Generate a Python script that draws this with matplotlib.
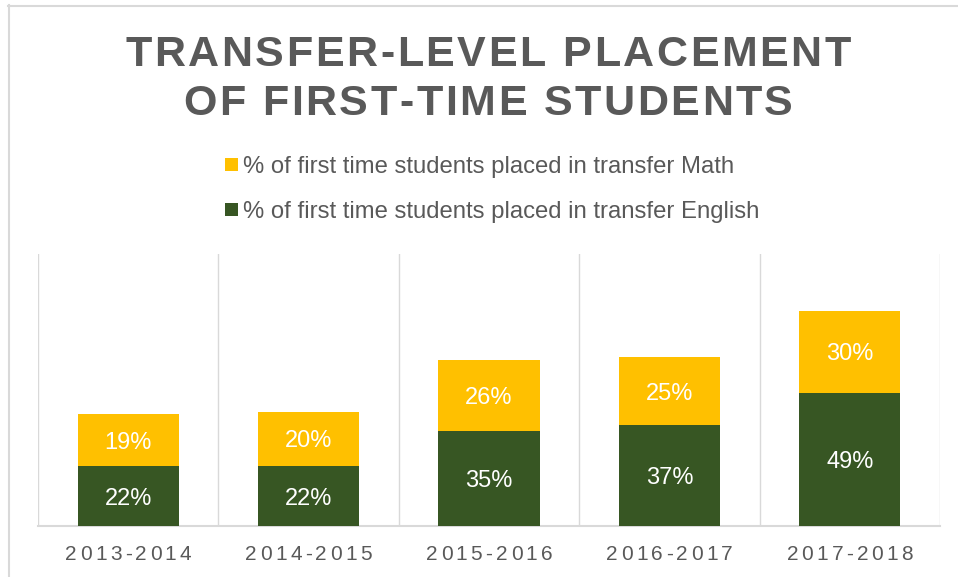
import matplotlib
matplotlib.use("Agg")
import matplotlib.pyplot as plt
from matplotlib import font_manager
from matplotlib.font_manager import FontProperties
from matplotlib.ft2font import FT2Font
from matplotlib.transforms import ScaledTranslation
from matplotlib.patches import Rectangle
from matplotlib.lines import Line2D

# data (percent)
years = ["2013-2014", "2014-2015", "2015-2016", "2016-2017", "2017-2018"]
english = [22, 22, 35, 37, 49]
math_vals = [19, 20, 26, 25, 30]
title_lines = ["TRANSFER-LEVEL PLACEMENT", "OF FIRST-TIME STUDENTS"]
legend_labels = ["% of first time students placed in transfer Math",
                 "% of first time students placed in transfer English"]

GREEN = "#375623"
GOLD = "#FFC000"
GREY_TXT = "#595959"
GRID = "#D9D9D9"

W, H = 958, 577
fig = plt.figure(figsize=(W / 100, H / 100), dpi=100)
ax = fig.add_axes([38 / W, 1 - 526 / H, 902 / W, 272 / H])


def fx(px):
    return px / W


def fy(py):
    return 1 - py / H


def spaced_text(x_px, y_px, s, size, spacing_pt, weight="normal", color=GREY_TXT):
    # draw text with extra letter spacing, centred on x_px, baseline at y_px
    fp = FontProperties(family="Liberation Sans", weight=weight, size=size)
    font = FT2Font(font_manager.findfont(fp))
    font.set_size(size, 72)
    adv = [font.load_char(ord(c)).linearHoriAdvance / 65536 for c in s]
    total = sum(adv) + spacing_pt * (len(s) - 1)
    pos = -total / 2
    for c, a in zip(s, adv):
        tr = fig.transFigure + ScaledTranslation(pos / 72, 0, fig.dpi_scale_trans)
        fig.text(fx(x_px), fy(y_px), c, transform=tr, fontproperties=fp,
                 color=color, ha="left", va="baseline")
        pos += a + spacing_pt


x = range(len(years))
b1 = ax.bar(x, english, width=0.56, color=GREEN, zorder=3)
b2 = ax.bar(x, math_vals, width=0.56, bottom=english, color=GOLD, zorder=3)

for i in x:
    ax.text(i, english[i] / 2, f"{english[i]}%", ha="center", va="center_baseline",
            color="white", fontsize=17, family="Liberation Sans", zorder=4)
    ax.text(i, english[i] + math_vals[i] / 2, f"{math_vals[i]}%", ha="center",
            va="center_baseline", color="white", fontsize=17,
            family="Liberation Sans", zorder=4)

ax.set_xlim(-0.5, len(years) - 0.5)
ax.set_ylim(0, 100)
for b in [i - 0.5 for i in range(len(years) + 1)]:
    ax.axvline(b, color=GRID, lw=1.0, zorder=1)
for s in ["top", "left", "right"]:
    ax.spines[s].set_visible(False)
ax.spines["bottom"].set_color(GRID)
ax.spines["bottom"].set_linewidth(1.5)
ax.set_xticks([])
ax.set_yticks([])

# category labels with letter spacing
cat_w = 902 / len(years)
for i, yr in enumerate(years):
    spaced_text(38 + cat_w * (i + 0.5), 560, yr, 15, 2.4)

# title
spaced_text(488, 66, title_lines[0], 31, 1.8, weight="bold")
spaced_text(488, 115, title_lines[1], 31, 1.8, weight="bold")

# legend
for k, (lab, col) in enumerate(zip(legend_labels, [GOLD, GREEN])):
    top = 158 + 45 * k
    fig.add_artist(Rectangle((fx(225), fy(top + 13)), 13 / W, 13 / H,
                             transform=fig.transFigure, color=col, lw=0))
    fig.text(fx(243), fy(top + 6.5), lab, ha="left", va="center_baseline",
             fontsize=17.2, family="Liberation Sans", color=GREY_TXT)

# outer frame
fig.add_artist(Line2D([fx(8), fx(958)], [fy(5.5), fy(5.5)], color=GRID, lw=1.5,
                      transform=fig.transFigure))
fig.add_artist(Line2D([fx(8.5), fx(8.5)], [fy(5), fy(577)], color=GRID, lw=1.5,
                      transform=fig.transFigure))

fig.savefig("out.png", dpi=100)
